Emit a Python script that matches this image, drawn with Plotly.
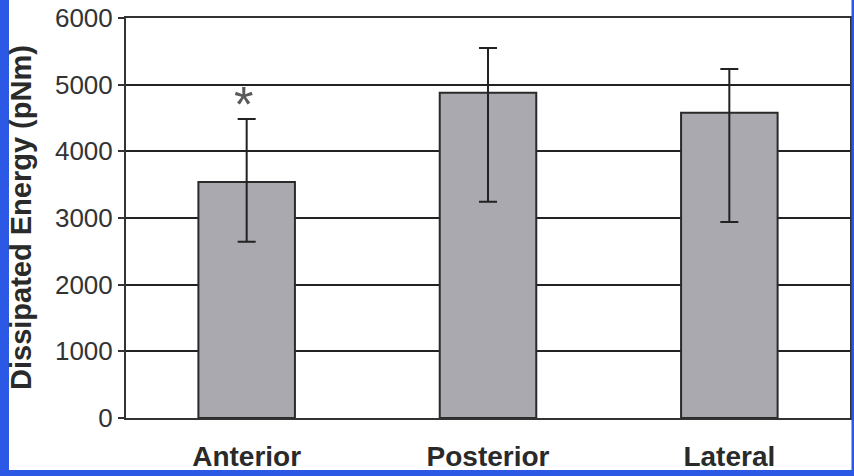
import plotly.graph_objects as go

categories = ["Anterior", "Posterior", "Lateral"]
means = [3540, 4880, 4580]
err_upper = [4485, 5550, 5235]
err_lower = [2645, 3245, 2940]
y_ticks = [0, 1000, 2000, 3000, 4000, 5000, 6000]
y_title = "Dissipated Energy (pNm)"
sig_marker = "*"
sig_category = "Anterior"
sig_value = 4850

plus = [u - m for u, m in zip(err_upper, means)]
minus = [m - l for m, l in zip(means, err_lower)]

W, H = 854, 476
L, R, T, B = 126, 4, 18, 58
pw, ph = W - L - R, H - T - B

def px_x(p):
    return (p - L) / pw

def px_y(p):
    return (H - B - p) / ph

fig = go.Figure()
fig.add_trace(go.Bar(
    x=categories, y=means, width=0.4,
    marker=dict(color="#a9a9af", line=dict(color="#2a2a2a", width=2)),
    error_y=dict(type="data", symmetric=False, array=plus, arrayminus=minus,
                 color="#222222", thickness=2, width=9),
    showlegend=False,
))

fig.add_annotation(
    x=sig_category, y=sig_value, xref="x", yref="y", text=sig_marker,
    showarrow=False, font=dict(family="Liberation Sans, Arial", size=50, color="#5a5a5a"),
    yanchor="middle", xanchor="center", yshift=-10, xshift=-3,
)

fig.add_annotation(
    x=px_x(21), y=0.5, xref="paper", yref="paper", text="<b>" + y_title + "</b>",
    textangle=-90, showarrow=False, xanchor="center", yanchor="middle",
    font=dict(family="Liberation Sans, Arial", size=29, color="#2a2a2a"),
)

blue = "#2c58e6"
shape_common = dict(type="rect", xref="paper", yref="paper", fillcolor=blue,
                    line=dict(width=0), layer="above")
fig.add_shape(x0=px_x(-2), x1=px_x(9), y0=px_y(-2), y1=px_y(H + 2), **shape_common)
fig.add_shape(x0=px_x(851.5), x1=px_x(W + 2), y0=px_y(-2), y1=px_y(H + 2), **shape_common)
fig.add_shape(x0=px_x(-2), x1=px_x(W + 2), y0=px_y(470), y1=px_y(H + 2), **shape_common)

fig.update_layout(
    width=W, height=H,
    margin=dict(l=L, r=R, t=T, b=B, autoexpand=False),
    paper_bgcolor="white", plot_bgcolor="white",
    font=dict(family="Liberation Sans, Arial", color="#333333"),
    bargap=0.6,
)
fig.update_xaxes(
    range=[-0.5, 2.5], showgrid=False, automargin=False,
    showline=True, linecolor="#333333", linewidth=2, mirror=True,
    ticks="", tickfont=dict(size=28, color="#2a2a2a", family="Liberation Sans, Arial"),
    tickvals=categories, ticktext=["<b>" + c + "</b>" for c in categories],
    ticklabelstandoff=12,
)
fig.update_yaxes(
    range=[0, 6000], tickvals=y_ticks, automargin=False,
    showgrid=True, gridcolor="#222222", gridwidth=2,
    showline=True, linecolor="#333333", linewidth=2, mirror=True,
    ticks="outside", ticklen=6, tickcolor="#333333", tickwidth=2,
    tickfont=dict(size=26, color="#333333", family="Liberation Sans, Arial"),
    zeroline=False,
)

fig.write_html("out.html")
